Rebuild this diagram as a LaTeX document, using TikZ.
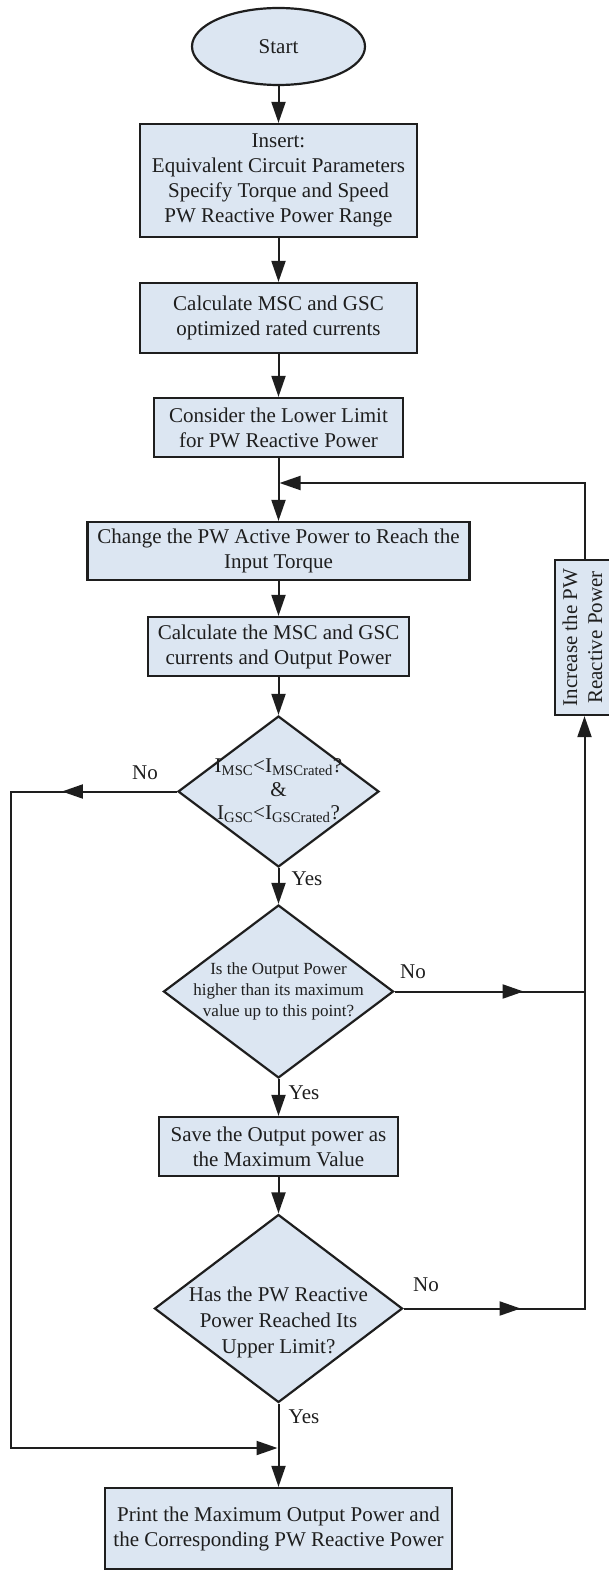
\documentclass[tikz,border=0pt]{standalone}
\usepackage{fontspec}
\setmainfont{Liberation Serif}
\usetikzlibrary{shapes.geometric,arrows.meta,decorations.markings,calc}
\definecolor{boxfill}{RGB}{220,230,242}
\definecolor{ink}{RGB}{30,30,30}
\newcommand\dtxt[2][-5pt]{\makebox[0pt]{\smash{\raisebox{#1}{\begin{tabular}{@{}c@{}}#2\end{tabular}}}}}
\begin{document}
\begin{tikzpicture}[x=1pt,y=-1pt,
  every node/.style={text=ink},
  box/.style={draw=ink, line width=2.2pt, fill=boxfill, rectangle, inner sep=0pt, align=center, font=\fontsize{21}{25}\selectfont},
  oval/.style={draw=ink, line width=2.2pt, fill=boxfill, ellipse, inner sep=0pt, font=\fontsize{21}{25}\selectfont},
  dia/.style={draw=ink, line width=2.2pt, fill=boxfill, diamond, inner sep=0pt},
  conn/.style={draw=ink, line width=2pt},
  tip/.style={-{Triangle[length=21pt,width=14pt]}},
  arr/.style={conn, tip},
  midarr/.style={conn, postaction={decorate}, decoration={markings, mark=at position #1 with {\arrow{Triangle[length=21pt,width=14pt]}}}},
  lbl/.style={inner sep=0pt, font=\fontsize{21}{25}\selectfont},
]
\useasboundingbox (0,0) rectangle (608,1570);

% nodes
\node[oval, minimum width=173, minimum height=77] (start) at (278.5,46.5) {Start};
\node[box, minimum width=277, minimum height=113] (insert) at (278.5,180.5)
  {Insert:\\Equivalent Circuit Parameters\\Specify Torque and Speed\\PW Reactive Power Range};
\node[box, minimum width=277, minimum height=70] (calc1) at (278.5,318)
  {Calculate MSC and GSC\\optimized rated currents};
\node[box, minimum width=249, minimum height=59] (consider) at (278.5,427.5)
  {Consider the Lower Limit\\for PW Reactive Power};
\node[box, minimum width=382, minimum height=58] (change) at (278.5,551)
  {Change the PW Active Power to Reach the\\Input Torque};
\node[box, minimum width=261, minimum height=59] (calc2) at (278.5,646.5)
  {Calculate the MSC and GSC\\currents and Output Power};
\node[dia, minimum width=201, minimum height=151, font=\fontsize{21}{23.5}\selectfont] (d1) at (278.5,791.5)
  {\dtxt{I\textsubscript{MSC}<I\textsubscript{MSCrated}?\\\&\\I\textsubscript{GSC}<I\textsubscript{GSCrated}?}};
\node[dia, minimum width=230, minimum height=173, font=\fontsize{17}{20.8}\selectfont] (d2) at (278.5,991.5)
  {\dtxt[-4pt]{Is the Output Power\\higher than its maximum\\value up to this point?}};
\node[box, minimum width=239, minimum height=59] (save) at (278.5,1146.5)
  {Save the Output power as\\the Maximum Value};
\node[dia, minimum width=248, minimum height=188, font=\fontsize{21}{25.7}\selectfont] (d3) at (278.5,1308.5)
  {\dtxt[-19pt]{Has the PW Reactive\\Power Reached Its\\Upper Limit?}};
\node[box, minimum width=347, minimum height=81] (print) at (278.5,1528.5)
  {Print the Maximum Output Power and\\the Corresponding PW Reactive Power};
\node[box, minimum width=59, minimum height=155] (inc) at (584.5,637.5)
  {\rotatebox{90}{\begin{tabular}{@{}c@{}}Increase the PW\\Reactive Power\end{tabular}}};

% helper coordinates
\coordinate (lx) at (11,0);
\coordinate (fb) at (279.5,483);
\coordinate (mrg) at (277.5,1448);

% main flow
\draw[arr] (start.south) -- (insert.north);
\draw[arr] (insert.south) -- (calc1.north);
\draw[arr] (calc1.south) -- (consider.north);
\draw[arr] (consider.south) -- (change.north);
\draw[arr] (change.south) -- (calc2.north);
\draw[arr] (calc2.south) -- (d1.north);
\draw[arr] (d1.south) -- (d2.north);
\draw[arr] (d2.south) -- (save.north);
\draw[arr] (save.south) -- (d3.north);
\draw[arr] (d3.south) -- (print.north);

% No branch of d1
\draw[midarr=115pt, tip] (d1.west) -- (d1.west -| lx) -- (mrg -| lx) -- (mrg);

% No branches to the right
\draw[midarr=129pt] (d2.east) -- (d2.east -| inc.south);
\draw[midarr=117pt, tip] (d3.east) -- (d3.east -| inc.south) -- (inc.south);

% feedback
\draw[arr] (inc.north) -- (inc.north |- fb) -- (fb);

% labels
\node[lbl] (no1) at (145,773) {No};
\node[lbl] (yes1) at (307,879) {Yes};
\node[lbl] (no2) at (413,972) {No};
\node[lbl] (yes2) at (304,1093) {Yes};
\node[lbl] (no3) at (426,1285) {No};
\node[lbl] (yes3) at (304,1417) {Yes};
\end{tikzpicture}
\end{document}
